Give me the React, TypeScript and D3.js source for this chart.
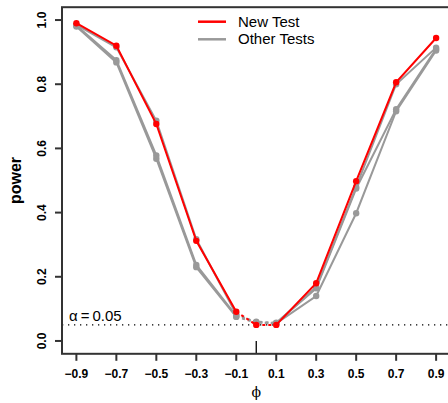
import { useRef, useEffect } from 'react';
import * as d3 from 'd3';

// phi values on the x axis
const phis = [-0.9, -0.7, -0.5, -0.3, -0.1, 0, 0.1, 0.3, 0.5, 0.7, 0.9];
const newTest = [0.99, 0.92, 0.676, 0.312, 0.091, 0.05, 0.05, 0.18, 0.498, 0.806, 0.944];
const otherA = [0.985, 0.915, 0.686, 0.317, 0.083, 0.058, 0.055, 0.168, 0.48, 0.8, 0.914];
const otherB = [0.983, 0.875, 0.578, 0.237, 0.078, 0.06, 0.057, 0.164, 0.475, 0.722, 0.91];
const otherC = [0.98, 0.868, 0.568, 0.23, 0.075, 0.057, 0.055, 0.14, 0.398, 0.716, 0.905];
const xTicks = [-0.9, -0.7, -0.5, -0.3, -0.1, 0.1, 0.3, 0.5, 0.7, 0.9];
const yTicks = [0, 0.2, 0.4, 0.6, 0.8, 1.0];
const alpha = 0.05;

const RED = '#ff0000';
const GRAY = '#999999';
const FONT = '"Liberation Sans", Arial, sans-serif';

export default function App() {
  const svgRef = useRef<SVGSVGElement>(null);

  useEffect(() => {
    const width = 448, height = 403;
    const svg = d3.select(svgRef.current).attr('width', width).attr('height', height);
    svg.selectAll('*').remove();

    const x = d3.scaleLinear().domain([-0.972, 0.972]).range([62, 450.5]);
    const y = d3.scaleLinear().domain([-0.04, 1.04]).range([353.8, 7.2]);

    const g = svg.append('g');

    // alpha reference line
    g.append('line')
      .attr('x1', x(-0.972)).attr('x2', x(0.972))
      .attr('y1', y(alpha)).attr('y2', y(alpha))
      .attr('stroke', '#000').attr('stroke-width', 1.3).attr('stroke-dasharray', '1.3,4.7');
    const at = g.append('text')
      .attr('x', 69).attr('y', y(alpha) - 4)
      .attr('font-family', FONT).attr('font-size', 15);
    at.append('tspan').text('α');
    at.append('tspan').attr('dx', 3).text('=');
    at.append('tspan').attr('dx', 3).text('0.05');

    // marker at phi = 0
    g.append('line')
      .attr('x1', x(0)).attr('x2', x(0))
      .attr('y1', y(0)).attr('y2', y(-0.04))
      .attr('stroke', '#000').attr('stroke-width', 1.3);

    const seg = (vals: number[], offset: number) =>
      d3.line<number>().x((d, i) => x(phis[i + offset])).y(d => y(d))(vals);

    const drawSeries = (vals: number[], color: string) => {
      g.append('path').attr('d', seg(vals.slice(0, 5), 0)).attr('fill', 'none')
        .attr('stroke', color).attr('stroke-width', 2);
      g.append('path').attr('d', seg(vals.slice(6), 6))
        .attr('fill', 'none').attr('stroke', color).attr('stroke-width', 2);
      // dashed near the null (phi = 0)
      g.append('path').attr('d', seg(vals.slice(4, 7), 4))
        .attr('fill', 'none').attr('stroke', color).attr('stroke-width', 2)
        .attr('stroke-dasharray', '3,3');
      g.selectAll(null).data(vals).enter().append('circle')
        .attr('cx', (d, i) => x(phis[i])).attr('cy', d => y(d)).attr('r', 3.2)
        .attr('fill', color);
    };

    drawSeries(otherC, GRAY);
    drawSeries(otherB, GRAY);
    drawSeries(otherA, GRAY);
    drawSeries(newTest, RED);

    // box
    g.append('rect')
      .attr('x', x(-0.972)).attr('y', y(1.04))
      .attr('width', x(0.972) - x(-0.972)).attr('height', y(-0.04) - y(1.04))
      .attr('fill', 'none').attr('stroke', '#333').attr('stroke-width', 2);

    // x axis
    const xa = g.append('g');
    xTicks.forEach(t => {
      xa.append('line').attr('x1', x(t)).attr('x2', x(t))
        .attr('y1', y(-0.04)).attr('y2', y(-0.04) + 7).attr('stroke', '#333').attr('stroke-width', 2);
      xa.append('text').attr('x', x(t)).attr('y', 378)
        .attr('text-anchor', 'middle').attr('font-family', FONT).attr('font-weight', 'bold')
        .attr('font-size', 12).text(d3.format('.1f')(t).replace('-', '\u2212'));
    });

    // y axis
    const ya = g.append('g');
    yTicks.forEach(t => {
      ya.append('line').attr('x1', 55).attr('x2', 62)
        .attr('y1', y(t)).attr('y2', y(t)).attr('stroke', '#333').attr('stroke-width', 2);
      ya.append('text')
        .attr('transform', `translate(46,${y(t)}) rotate(-90)`)
        .attr('text-anchor', 'middle').attr('font-family', FONT).attr('font-weight', 'bold')
        .attr('font-size', 12).text(d3.format('.1f')(t));
    });

    // axis titles
    svg.append('text').attr('transform', `translate(21,${y(0.5)}) rotate(-90)`)
      .attr('text-anchor', 'middle').attr('font-family', FONT).attr('font-weight', 'bold')
      .attr('font-size', 16).text('power');
    svg.append('text').attr('x', x(0)).attr('y', 397)
      .attr('text-anchor', 'middle').attr('font-family', '"DejaVu Serif", serif')
      .attr('font-size', 14).text('ϕ');

    // legend
    const legend = [
      { label: 'New Test', color: RED },
      { label: 'Other Tests', color: GRAY },
    ];
    legend.forEach((d, i) => {
      const ly = 21.7 + i * 17.6;
      svg.append('line').attr('x1', 198).attr('x2', 226).attr('y1', ly).attr('y2', ly)
        .attr('stroke', d.color).attr('stroke-width', 2.5);
      svg.append('text').attr('x', 238).attr('y', ly + 5)
        .attr('font-family', FONT).attr('font-size', 15).text(d.label);
    });
  }, []);

  return <svg ref={svgRef} style={{ position: 'absolute', left: 0, top: 0 }} />;
}
